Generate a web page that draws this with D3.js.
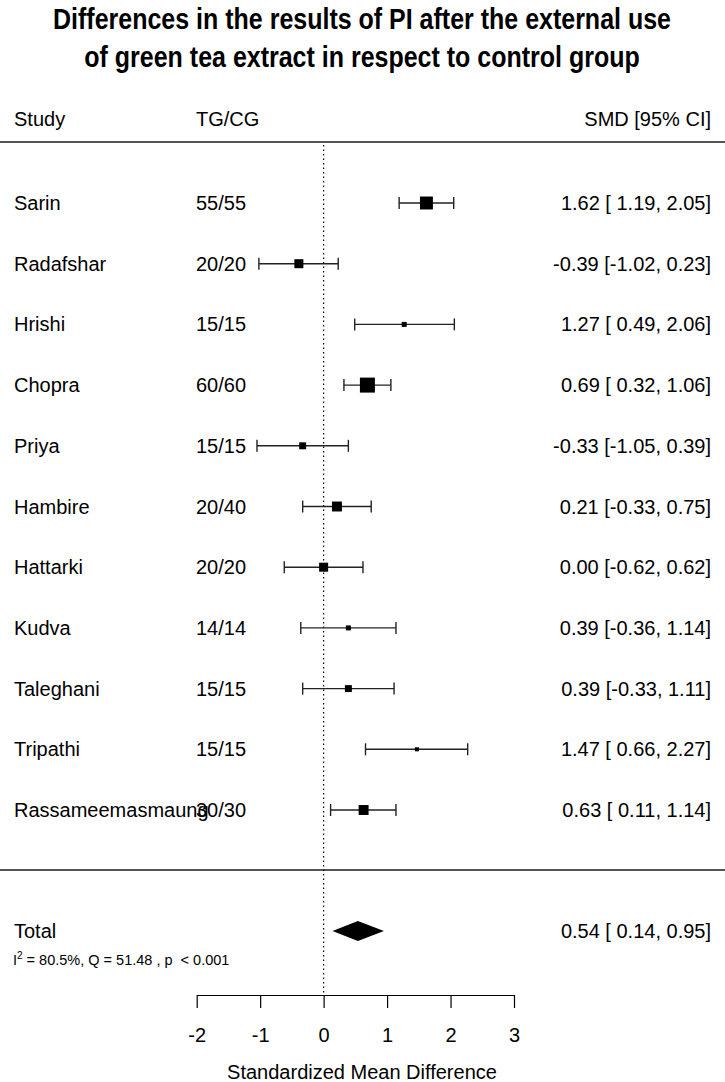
<!DOCTYPE html>
<html>
<head>
<meta charset="utf-8">
<script src="https://cdn.jsdelivr.net/npm/d3@7"></script>
<style>
  html, body { margin: 0; padding: 0; background: #fff; }
  svg { display: block; font-family: "Liberation Sans", Arial, sans-serif; }
</style>
</head>
<body>
<svg id="chart" width="725" height="1082"></svg>
<script>
// ---- data ----
const studies = ["Sarin", "Radafshar", "Hrishi", "Chopra", "Priya", "Hambire", "Hattarki", "Kudva", "Taleghani", "Tripathi", "Rassameemasmaung"];
const groups  = ["55/55", "20/20", "15/15", "60/60", "15/15", "20/40", "20/20", "14/14", "15/15", "15/15", "30/30"];
const smd     = [1.62, -0.39, 1.27, 0.69, -0.33, 0.21, 0.00, 0.39, 0.39, 1.47, 0.63];
const ciLow   = [1.19, -1.02, 0.49, 0.32, -1.05, -0.33, -0.62, -0.36, -0.33, 0.66, 0.11];
const ciHigh  = [2.05, 0.23, 2.06, 1.06, 0.39, 0.75, 0.62, 1.14, 1.11, 2.27, 1.14];
const weights = [13.8, 9.6, 5.3, 16.0, 7.4, 10.6, 9.6, 5.3, 7.4, 4.3, 10.6]; // approx. % weight (marker size)
const total   = { est: 0.54, lo: 0.14, hi: 0.95 };
const hetero  = { I2: "80.5%", Q: "51.48", p: "< 0.001" };
const xTicks  = [-2, -1, 0, 1, 2, 3];
const titleLines = ["Differences in the results of PI after the external use", "of green tea extract in respect to control group"];

// ---- layout ----
const svg = d3.select("#chart");
const W = 725;
const x = d3.scaleLinear().domain([-2, 3]).range([196.7, 514]);
const y = d3.scalePoint().domain(studies).range([203, 810]);
const yTotal = 931;
const size = d3.scaleLinear().domain([0, 16]).range([0, 15]);
const fmt = v => v.toFixed(2);
const padPos = v => (v >= 0 ? " " : "") + fmt(v);
const ciText = (e, l, h) => `${fmt(e)} [${padPos(l)}, ${fmt(h)}]`;

// title (slightly tall glyphs as in the reference)
svg.append("g").selectAll("text").data(titleLines).join("text")
  .attr("transform", (d, i) => `translate(362,${29 + i * 38}) scale(1,1.18)`)
  .attr("text-anchor", "middle").attr("font-weight", "bold").attr("font-size", 25)
  .attr("fill", "#000").text(d => d);

// headers
const hdrY = 126;
svg.append("text").attr("x", 14).attr("y", hdrY).attr("font-size", 20).text("Study");
svg.append("text").attr("x", 196).attr("y", hdrY).attr("font-size", 20).text("TG/CG");
svg.append("text").attr("x", 711).attr("y", hdrY).attr("font-size", 20).attr("text-anchor", "end").text("SMD [95% CI]");

// separators
svg.append("line").attr("x1", 0).attr("x2", W).attr("y1", 142).attr("y2", 142).attr("stroke", "#555").attr("stroke-width", 2);
svg.append("line").attr("x1", 0).attr("x2", W).attr("y1", 870).attr("y2", 870).attr("stroke", "#555").attr("stroke-width", 2);

// reference line at 0
svg.append("line").attr("x1", x(0)).attr("x2", x(0)).attr("y1", 145).attr("y2", 995)
  .attr("stroke", "#000").attr("stroke-width", 1.2).attr("stroke-dasharray", "1.5,3");

// rows
const rows = studies.map((s, i) => ({ s, g: groups[i], e: smd[i], l: ciLow[i], h: ciHigh[i], w: weights[i] }));
const row = svg.append("g").selectAll("g").data(rows).join("g");
row.append("text").attr("x", 14).attr("y", d => y(d.s) + 7).attr("font-size", 20).text(d => d.s);
row.append("text").attr("x", 196).attr("y", d => y(d.s) + 7).attr("font-size", 20).text(d => d.g);
row.append("text").attr("x", 711).attr("y", d => y(d.s) + 7).attr("font-size", 20).attr("text-anchor", "end")
  .style("white-space", "pre").attr("xml:space", "preserve").text(d => ciText(d.e, d.l, d.h));
row.append("line").attr("x1", d => x(d.l)).attr("x2", d => x(d.h)).attr("y1", d => y(d.s)).attr("y2", d => y(d.s))
  .attr("stroke", "#222").attr("stroke-width", 1.4);
row.append("line").attr("x1", d => x(d.l)).attr("x2", d => x(d.l)).attr("y1", d => y(d.s) - 6).attr("y2", d => y(d.s) + 6)
  .attr("stroke", "#222").attr("stroke-width", 1.4);
row.append("line").attr("x1", d => x(d.h)).attr("x2", d => x(d.h)).attr("y1", d => y(d.s) - 6).attr("y2", d => y(d.s) + 6)
  .attr("stroke", "#222").attr("stroke-width", 1.4);
row.append("rect")
  .attr("x", d => x(d.e) - size(d.w) / 2).attr("y", d => y(d.s) - size(d.w) / 2)
  .attr("width", d => size(d.w)).attr("height", d => size(d.w)).attr("fill", "#000");

// total
svg.append("text").attr("x", 14).attr("y", yTotal + 7).attr("font-size", 20).text("Total");
svg.append("text").attr("x", 711).attr("y", yTotal + 7).attr("font-size", 20).attr("text-anchor", "end")
  .style("white-space", "pre").attr("xml:space", "preserve").text(ciText(total.est, total.lo, total.hi));
svg.append("polygon")
  .attr("points", [[x(total.lo), yTotal], [x(total.est), yTotal - 10], [x(total.hi), yTotal], [x(total.est), yTotal + 10]].map(p => p.join(",")).join(" "))
  .attr("fill", "#000");
const het = svg.append("text").attr("x", 13).attr("y", 965).attr("font-size", 14.5).style("white-space", "pre").attr("xml:space", "preserve");
het.append("tspan").text("I");
het.append("tspan").attr("font-size", 10).attr("dy", -6).text("2");
het.append("tspan").attr("dy", 6).text(` = ${hetero.I2}, Q = ${hetero.Q} , p  ${hetero.p}`);

// axis
const axis = d3.axisBottom(x).tickValues(xTicks).tickSize(13).tickSizeOuter(0).tickPadding(20).tickFormat(d3.format("d"));
const ax = svg.append("g").attr("transform", "translate(0,995)").call(axis);
ax.selectAll("text").attr("font-size", 20).attr("font-family", "Liberation Sans, Arial, sans-serif").attr("fill", "#000");
ax.selectAll("line, path").attr("stroke", "#000").attr("stroke-width", 1.2);
ax.selectAll("text").text(d => d < 0 ? "-" + Math.abs(d) : d);

svg.append("text").attr("x", 362).attr("y", 1079).attr("font-size", 20).attr("text-anchor", "middle").text("Standardized Mean Difference");
</script>
</body>
</html>
